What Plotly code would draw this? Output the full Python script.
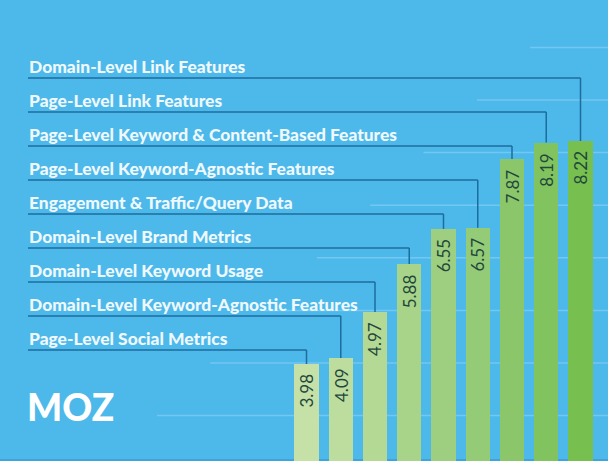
import plotly.graph_objects as go

# data, left bar to right bar
features = [
    "Page-Level Social Metrics",
    "Domain-Level Keyword-Agnostic Features",
    "Domain-Level Keyword Usage",
    "Domain-Level Brand Metrics",
    "Engagement & Traffic/Query Data",
    "Page-Level Keyword-Agnostic Features",
    "Page-Level Keyword & Content-Based Features",
    "Page-Level Link Features",
    "Domain-Level Link Features",
]
scores = [3.98, 4.09, 4.97, 5.88, 6.55, 6.57, 7.87, 8.19, 8.22]
bar_colors = ["#c6e1a7", "#bddd9e", "#b3d994", "#a8d489", "#9ecf80",
              "#94cb76", "#8bc76a", "#81c35e", "#77c04f"]
grid_values = [3, 4, 5, 6, 7, 8, 9, 10]

W, H = 608, 461
BG = "#4db8ea"
LINE = "#1c6c9c"

# pixel <-> axis helpers (plot area = whole page)
Y0, YPX = 2.136, 52.59     # value at bottom edge, px per unit
X0, XPX = 306.5, 34.25     # px of first bar centre, px per bar
y_range = [Y0, Y0 + H / YPX]
x_range = [-X0 / XPX, (W - X0) / XPX]


def px_y(py):
    return Y0 + (H - py) / YPX


def px_x(px):
    return (px - X0) / XPX


idx = list(range(len(scores)))

fig = go.Figure()
fig.add_trace(go.Bar(
    x=idx, y=scores,
    width=0.715,
    marker=dict(color=bar_colors, line=dict(width=0)),
    hoverinfo="skip",
))

shapes = []
# faint guide lines, starting further right as they go up
for v in grid_values:
    shapes.append(dict(
        type="line", xref="x", yref="y", layer="below",
        x0=px_x(157 + 53.3 * (v - 3)), x1=x_range[1],
        y0=v, y1=v,
        line=dict(color="#74c7f1", width=1.5),
    ))
# darker edge along the bottom
shapes.append(dict(
    type="line", xref="paper", yref="y", layer="below",
    x0=0, x1=1, y0=px_y(460), y1=px_y(460),
    line=dict(color="#3a9fd6", width=1.5),
))

annotations = []
for i, (name, val) in enumerate(zip(features, scores)):
    row = px_y(350 - 34.0 * i)
    # label
    annotations.append(dict(
        x=px_x(27), y=row, xref="x", yref="y",
        xanchor="left", yanchor="middle", yshift=12,
        text=name, showarrow=False,
        font=dict(family="Lato", size=17.4, color="#eef8fd", weight=900),
    ))
    # elbow connector: under the label, across, then down to the bar top
    shapes.append(dict(
        type="line", xref="x", yref="y", layer="below",
        x0=px_x(28), x1=i, y0=row, y1=row,
        line=dict(color=LINE, width=1.5),
    ))
    shapes.append(dict(
        type="line", xref="x", yref="y", layer="below",
        x0=i, x1=i, y0=row, y1=val,
        line=dict(color=LINE, width=1.5),
    ))
    # value, rotated, near the top of the bar
    annotations.append(dict(
        x=i, y=val, xref="x", yref="y",
        xanchor="center", yanchor="top", yshift=-8,
        text=f"{val:.2f}", textangle=-90, showarrow=False,
        font=dict(family="Lato", size=17, color="#23473c"),
    ))

# logo
annotations.append(dict(
    x=px_x(25), y=px_y(406), xref="x", yref="y",
    xanchor="left", yanchor="middle",
    text="MOZ", showarrow=False,
    font=dict(family="Lato", size=37, color="#ffffff", weight=900),
))

fig.update_layout(
    width=W, height=H,
    margin=dict(l=0, r=0, t=0, b=0),
    paper_bgcolor=BG, plot_bgcolor=BG,
    showlegend=False,
    bargap=0,
    xaxis=dict(range=x_range, visible=False, fixedrange=True),
    yaxis=dict(range=y_range, visible=False, fixedrange=True),
    shapes=shapes,
    annotations=annotations,
)

fig.write_html("out.html", config={"displayModeBar": False},
               post_script="document.body.style.margin='0px';")
